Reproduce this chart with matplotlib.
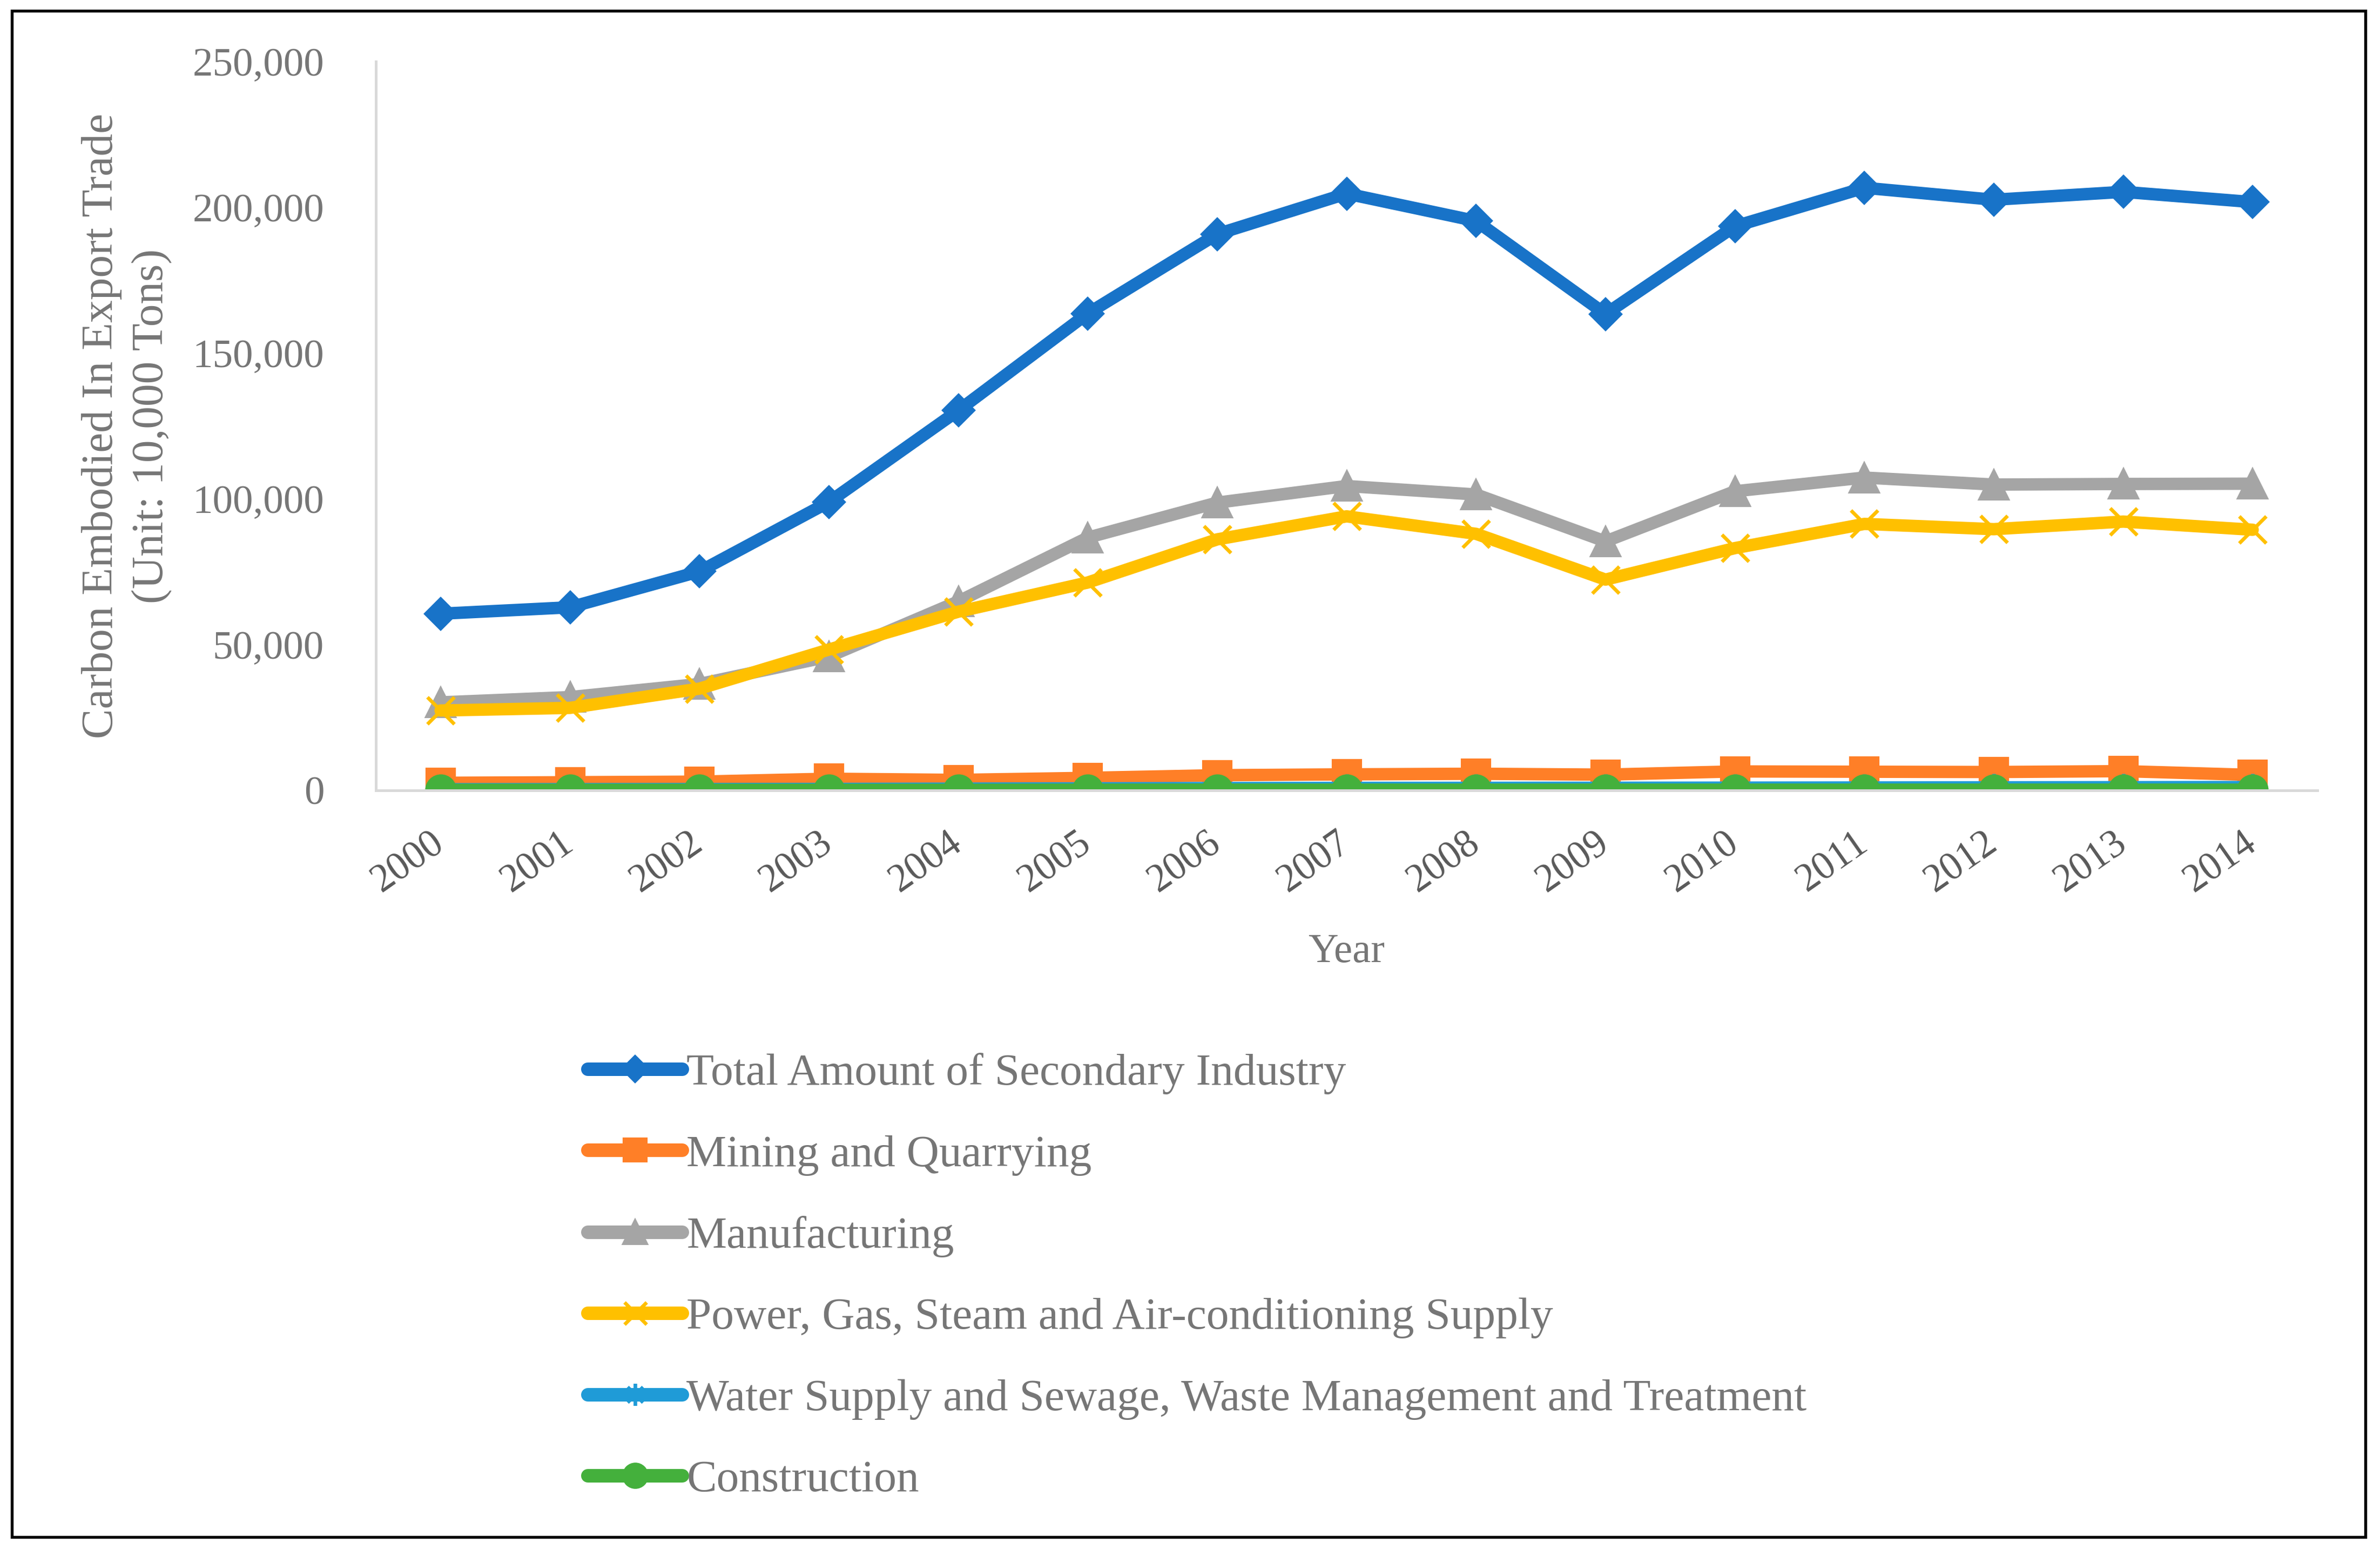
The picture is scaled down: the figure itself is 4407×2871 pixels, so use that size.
import matplotlib
matplotlib.use("Agg")
import matplotlib.pyplot as plt
from matplotlib.patches import Rectangle
from matplotlib.path import Path
from matplotlib.ticker import FuncFormatter

# data (unit: 10,000 tons)
years = [str(y) for y in range(2000, 2015)]
total = [60600, 62800, 75100, 98900, 130300, 163600, 190800, 204700,
         195300, 163400, 193500, 206700, 202600, 205300, 201800]
mining = [2600, 2800, 3000, 4000, 3600, 4300, 5200, 5500,
          5700, 5400, 6500, 6400, 6300, 6600, 5300]
manufacturing = [30200, 32000, 36500, 45900, 64800, 86700, 98700, 104400,
                 101500, 85400, 102600, 107300, 104900, 105100, 105200]
power = [27400, 28300, 34900, 48300, 61300, 71300, 86100, 94000,
         88000, 72300, 83100, 91400, 89600, 92200, 89400]
water = [400, 420, 450, 500, 600, 700, 800, 850,
         880, 900, 950, 1000, 1050, 1100, 1150]
construction = [200, 200, 200, 200, 200, 250, 250, 250,
                250, 250, 250, 250, 250, 250, 250]

series_names = ["Total Amount of Secondary Industry", "Mining and Quarrying",
                "Manufacturing", "Power, Gas, Steam and Air-conditioning Supply",
                "Water Supply and Sewage, Waste Management and Treatment",
                "Construction"]
series_values = [total, mining, manufacturing, power, water, construction]
colors = ["#1873C8", "#FF7F27", "#A5A5A5", "#FFC000", "#1F9BD7", "#44B03C"]

W, H = 4407, 2871
fig = plt.figure(figsize=(W / 300, H / 300), dpi=300)
plt.rcParams['font.family'] = ['Liberation Serif', 'DejaVu Serif']

ax = fig.add_axes([696 / W, 1 - 1464 / H, (4291 - 696) / W, (1464 - 114) / H])

# Excel style "star" marker: an x with a vertical stroke
star = Path([(0, -1), (0, 1), (-0.7, -0.7), (0.7, 0.7), (-0.7, 0.7), (0.7, -0.7)],
            [Path.MOVETO, Path.LINETO] * 3)

x = list(range(len(years)))
lw = 5.5
styles = [
    dict(marker="D", markersize=10),
    dict(marker="s", markersize=12.5),
    dict(marker="^", markersize=13),
    dict(marker="x", markersize=12, markeredgewidth=1.6),
    dict(marker=star, markersize=12, markeredgewidth=1.6),
    dict(marker="o", markersize=13),
]
for name, vals, c, st in zip(series_names, series_values, colors, styles):
    ax.plot(x, vals, color=c, lw=lw, label=name, solid_capstyle="round",
            solid_joinstyle="round", markerfacecolor=c, markeredgecolor=c,
            **st)

ax.set_xlim(-0.5, len(years) - 0.5)
ax.set_ylim(0, 250000)
ax.set_yticks(range(0, 250001, 50000))
ax.yaxis.set_major_formatter(FuncFormatter(lambda v, p: f"{int(v):,}"))
ax.set_xticks(x)
ax.set_xticklabels(years, rotation=35, ha="right", va="center",
                   rotation_mode="anchor")

for s in ["top", "right"]:
    ax.spines[s].set_visible(False)
for s in ["left", "bottom"]:
    ax.spines[s].set_color("#D9D9D9")
    ax.spines[s].set_linewidth(1.2)

ax.tick_params(axis="y", length=0, pad=23, labelsize=18, labelcolor="#767676")
ax.tick_params(axis="x", length=0, pad=22, labelsize=17.5, labelcolor="#595959")

ax.set_xlabel("Year", fontsize=18.5, color="#767676", labelpad=15)
fig.text(235 / W, 1 - 789 / H,
         "Carbon Embodied In Export Trade\n(Unit: 10,000 Tons)",
         rotation=90, ha="center", va="center", multialignment="center",
         fontsize=20, color="#767676", linespacing=1.3)

leg = ax.legend(loc="upper left", bbox_to_anchor=(1088 / W, 1 - 1950 / H),
                bbox_transform=fig.transFigure, frameon=False, ncol=1,
                fontsize=20, handlelength=2.1, handletextpad=0.1,
                labelspacing=0.89, numpoints=1, borderaxespad=0, borderpad=0)
for t in leg.get_texts():
    t.set_color("#767676")
for h in leg.legend_handles:
    h.set_linewidth(6)
    h.set_markersize(h.get_markersize() * 0.82)

fig.patches.append(Rectangle((22 / W, 1 - 2847 / H), (4380 - 22) / W,
                             (2847 - 20) / H, transform=fig.transFigure,
                             fill=False, edgecolor="black", lw=1.3))

fig.savefig("out.png", dpi=300)
